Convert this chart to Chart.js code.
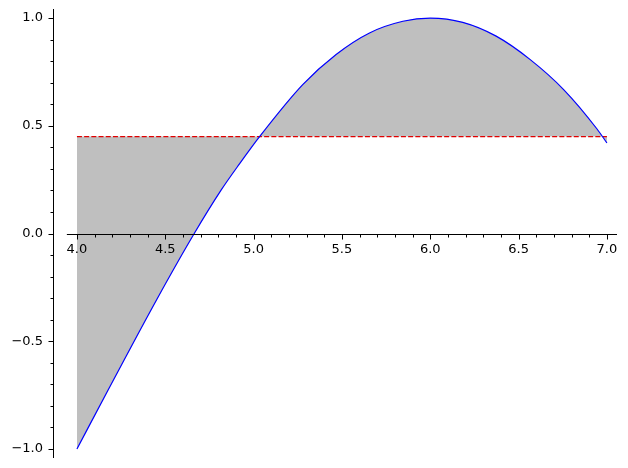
<!DOCTYPE html>
<html>
<head>
<meta charset="utf-8">
<script src="https://cdn.jsdelivr.net/npm/chart.js@4"></script>
<style>
  html, body { margin: 0; padding: 0; background: #ffffff; }
  #wrap { width: 628px; height: 468px; }
</style>
</head>
<body>
<div id="wrap"><canvas id="c" width="628" height="468"></canvas></div>
<script>
// ---- data ----
const curveX = [4.0, 4.178, 4.452, 4.664, 4.815, 4.919, 5.036, 5.278, 5.467, 5.656, 5.845, 6.0, 6.184, 6.373, 6.566, 6.755, 6.944, 7.0];
const curveY = [-1.0, -0.724, -0.306, 0.0, 0.20, 0.322, 0.452, 0.691, 0.831, 0.931, 0.985, 1.0, 0.98, 0.916, 0.807, 0.668, 0.485, 0.42];
const avgX = [4.0, 7.0];
const avgY = [0.45, 0.45];

const xMajorTicks = [4.0, 4.5, 5.0, 5.5, 6.0, 6.5, 7.0];
const xTickLabels = ['4.0', '4.5', '5.0', '5.5', '6.0', '6.5', '7.0'];
const yMajorTicks = [-1.0, -0.5, 0.0, 0.5, 1.0];
const yTickLabels = ['\u22121.0', '\u22120.5', '0.0', '0.5', '1.0'];
const xMinorStep = 0.1;
const yMinorStep = 0.1;

// axis extents
const X_MIN = 3.8645, X_MAX = 7.057, X_LINE_START = 3.943;
const Y_MIN = -1.042, Y_MAX = 1.042;

const curvePts = curveX.map((x, i) => ({ x: x, y: curveY[i] }));
const avgPts = avgX.map((x, i) => ({ x: x, y: avgY[i] }));

function minorValues(lo, hi, step) {
  const out = [];
  const n = Math.round((hi - lo) / step);
  for (let i = 0; i <= n; i++) out.push(+(lo + i * step).toFixed(6));
  return out;
}

const axesPlugin = {
  id: 'axesPlugin',
  afterDraw(chart) {
    const ctx = chart.ctx;
    const xs = chart.scales.x, ys = chart.scales.y;
    const area = chart.chartArea;
    ctx.save();
    ctx.strokeStyle = '#000000';
    ctx.lineWidth = 1;
    // y spine
    const sx = Math.round(area.left) + 0.5;
    ctx.beginPath();
    ctx.moveTo(sx, area.top);
    ctx.lineTo(sx, area.bottom);
    ctx.stroke();
    // y ticks
    const yMinor = minorValues(yMajorTicks[0], yMajorTicks[yMajorTicks.length - 1], yMinorStep);
    yMinor.forEach(v => {
      const isMajor = yMajorTicks.some(m => Math.abs(m - v) < 1e-6);
      const py = Math.round(ys.getPixelForValue(v)) + 0.5;
      const len = isMajor ? 5 : 3;
      ctx.beginPath();
      ctx.moveTo(sx - len, py);
      ctx.lineTo(sx, py);
      ctx.stroke();
    });
    // x axis line at y = 0
    const y0 = Math.round(ys.getPixelForValue(0)) + 0.5;
    ctx.beginPath();
    ctx.moveTo(xs.getPixelForValue(X_LINE_START), y0);
    ctx.lineTo(area.right, y0);
    ctx.stroke();
    // x ticks
    const xMinor = minorValues(xMajorTicks[0], xMajorTicks[xMajorTicks.length - 1], xMinorStep);
    xMinor.forEach(v => {
      const isMajor = xMajorTicks.some(m => Math.abs(m - v) < 1e-6);
      const px = Math.round(xs.getPixelForValue(v)) + 0.5;
      const len = isMajor ? 5 : 3;
      ctx.beginPath();
      ctx.moveTo(px, y0);
      ctx.lineTo(px, y0 + len);
      ctx.stroke();
    });
    ctx.restore();
  }
};

const tickFont = { family: 'DejaVu Sans', size: 13 };

new Chart(document.getElementById('c'), {
  type: 'line',
  data: {
    datasets: [
      {
        data: curvePts,
        borderColor: '#0000ff',
        borderWidth: 1.2,
        pointRadius: 0,
        cubicInterpolationMode: 'monotone',
        fill: { value: 0.45 },
        backgroundColor: '#bfbfbf',
        order: 0
      },
      {
        data: avgPts,
        borderColor: '#e00000',
        borderWidth: 1.2,
        borderDash: [5, 2.2],
        pointRadius: 0,
        fill: false,
        order: 1
      }
    ]
  },
  options: {
    responsive: false,
    animation: false,
    devicePixelRatio: 1,
    layout: { padding: { top: 9, right: 11, bottom: 10, left: 0 } },
    plugins: {
      legend: { display: false },
      tooltip: { enabled: false },
      filler: { drawTime: 'beforeDatasetsDraw' }
    },
    scales: {
      x: {
        type: 'linear',
        position: { y: 0 },
        min: X_MIN,
        max: X_MAX,
        border: { display: false },
        grid: { display: false, drawTicks: false },
        afterBuildTicks: s => { s.ticks = xMajorTicks.map(v => ({ value: v })); },
        afterFit: s => { s.paddingLeft = 0; s.paddingRight = 0; s.paddingTop = 0; s.paddingBottom = 0; },
        ticks: {
          z: 1,
          autoSkip: false,
          maxRotation: 0,
          padding: 8,
          color: '#000000',
          font: tickFont,
          callback: (v, i) => xTickLabels[i]
        }
      },
      y: {
        type: 'linear',
        min: Y_MIN,
        max: Y_MAX,
        border: { display: false },
        grid: { display: false, drawTicks: false },
        afterFit: s => { s.width = 53; s.paddingTop = 0; s.paddingBottom = 0; },
        afterBuildTicks: s => { s.ticks = yMajorTicks.map(v => ({ value: v })); },
        ticks: {
          autoSkip: false,
          padding: 10,
          color: '#000000',
          font: tickFont,
          callback: (v, i) => yTickLabels[i]
        }
      }
    }
  },
  plugins: [axesPlugin]
});
</script>
</body>
</html>
